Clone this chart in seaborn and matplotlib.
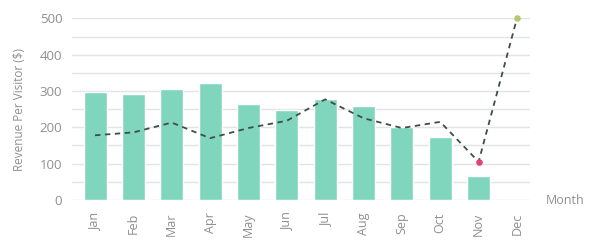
import numpy as np
import pandas as pd
import matplotlib
matplotlib.use("Agg")
import matplotlib.pyplot as plt
import seaborn as sns
from matplotlib.ticker import MultipleLocator

months = ["Jan", "Feb", "Mar", "Apr", "May", "Jun", "Jul", "Aug", "Sep", "Oct", "Nov", "Dec"]
bar_values = [298, 293, 306, 322, 265, 247, 278, 260, 202, 174, 65, np.nan]
line_values = [178, 186, 213, 170, 198, 218, 277, 225, 198, 215, 105, 500]
y_ticks = [0, 100, 200, 300, 400, 500]

sns.set_theme(style="white")
plt.rcParams['font.family'] = ['Open Sans', 'DejaVu Sans']

fig = plt.figure(figsize=(5.94, 2.45), dpi=100)
ax = fig.add_axes([72 / 594, 0.184, (530 - 72) / 594, 0.741])

df = pd.DataFrame({"Month": months, "Revenue": bar_values})
sns.barplot(data=df, x="Month", y="Revenue", order=months, color="#7fd6bd",
            saturation=1, width=0.6, ax=ax, zorder=2)

x_pos = np.arange(len(months))
sns.lineplot(x=x_pos, y=line_values, ax=ax, color="#3f4d49", linestyle=(0, (3, 2.5)),
             linewidth=1.3, zorder=3)
ax.scatter([x_pos[10]], [line_values[10]], color="#e0447a", s=14, zorder=4, clip_on=False)
ax.scatter([x_pos[11]], [line_values[11]], color="#b5c96a", s=14, zorder=4, clip_on=False)

ax.set_xlim(-0.6, 11.34)
ax.set_ylim(0, 500)
ax.set_yticks(y_ticks)
ax.yaxis.set_minor_locator(MultipleLocator(50))
ax.grid(axis="y", which="both", color="#e3e3e3", linewidth=1, zorder=0)
ax.set_axisbelow(True)
for s in ax.spines.values():
    s.set_visible(False)

ax.tick_params(axis="y", length=0, pad=7, labelsize=9.5, labelcolor="#8f8f8f")
ax.tick_params(axis="x", length=0, pad=9, labelsize=9, labelcolor="#8f8f8f", labelrotation=90)
ax.set_xlabel("")
ax.set_ylabel("Revenue Per Visitor ($)", fontsize=8.5, color="#8f8f8f", labelpad=10)
fig.text(0.918, 0.18, "Month", fontsize=9, color="#8f8f8f", ha="left", va="center")

fig.savefig("out.png", dpi=100)
